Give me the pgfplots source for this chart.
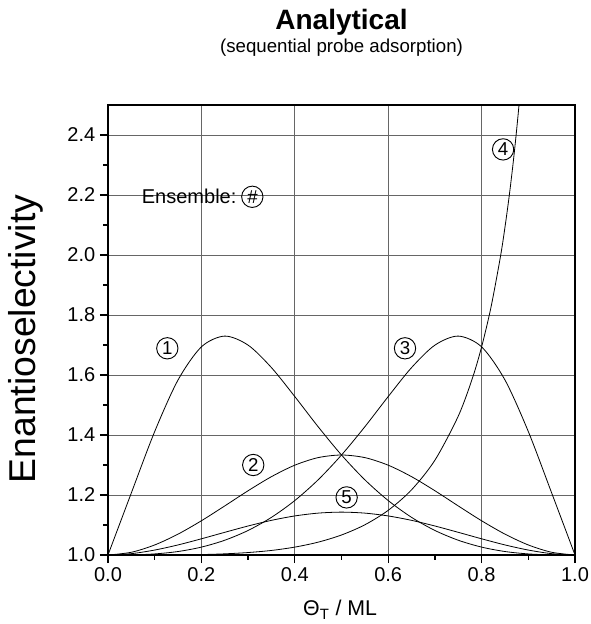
\documentclass[border=0pt]{standalone}
\usepackage{pgfplots}
\pgfplotsset{compat=1.18}
\usepackage{fontspec}
\setmainfont{Liberation Sans}
\tikzset{circ/.style={circle, draw=black, line width=0.7pt, inner sep=0pt, minimum size=16pt, font=\fontsize{14}{16}\selectfont}}
\begin{document}
\begin{tikzpicture}
\begin{axis}[name=ax,
  scale only axis, width=350.25pt, height=337.5pt,
  xmin=0, xmax=1, ymin=1, ymax=2.5,
  xtick={0,0.2,0.4,0.6,0.8,1}, minor xtick={0.1,0.3,0.5,0.7,0.9},
  ytick={1,1.2,1.4,1.6,1.8,2.0,2.2,2.4}, minor ytick={1.1,1.3,1.5,1.7,1.9,2.1,2.3},
  xticklabel style={/pgf/number format/.cd, fixed, fixed zerofill, precision=1},
  yticklabel style={/pgf/number format/.cd, fixed, fixed zerofill, precision=1},
  /pgf/number format/assume math mode=true,
  tick label style={font=\fontsize{15}{17}\selectfont},
  tick align=outside, xtick pos=bottom, ytick pos=left,
  major tick length=6pt, minor tick length=3.5pt,
  tick style={black, line width=1pt},
  axis line style={line width=1.5pt},
  grid=major, major grid style={black!60, line width=0.55pt},
  xlabel={Θ\textsubscript{T} / ML},
  ylabel={Enantioselectivity},
  x label style={font=\fontsize{16}{18}\selectfont, at={(axis description cs:0.497,-0.122)}, anchor=center},
  y label style={font=\fontsize{28}{32}\selectfont, at={(axis description cs:-0.175,0.48)}, anchor=center},
]
% ensemble 1
\addplot[black, line width=0.6pt, smooth] coordinates {(0,1) (0.05,1.2070) (0.1,1.4116) (0.15,1.5835) (0.2,1.6938) (0.25,1.7297) (0.3,1.6995) (0.35,1.6246) (0.4,1.5281) (0.45,1.4275) (0.5,1.3333) (0.55,1.2507) (0.6,1.1815) (0.65,1.1255) (0.7,1.0818) (0.75,1.0492) (0.8,1.0263) (0.85,1.0116) (0.9,1.0036) (0.95,1.0005) (1,1)};
% ensemble 3
\addplot[black, line width=0.6pt, smooth] coordinates {(0,1) (0.05,1.0005) (0.1,1.0036) (0.15,1.0116) (0.2,1.0263) (0.25,1.0492) (0.3,1.0818) (0.35,1.1255) (0.4,1.1815) (0.45,1.2507) (0.5,1.3333) (0.55,1.4275) (0.6,1.5281) (0.65,1.6246) (0.7,1.6995) (0.75,1.7297) (0.8,1.6938) (0.85,1.5835) (0.9,1.4116) (0.95,1.2070) (1,1)};
% ensemble 2
\addplot[black, line width=0.6pt, smooth] coordinates {(0,1) (0.05,1.0091) (0.1,1.0335) (0.15,1.0696) (0.2,1.1141) (0.25,1.1636) (0.3,1.2142) (0.35,1.2611) (0.4,1.2994) (0.45,1.3246) (0.5,1.3333) (0.55,1.3246) (0.6,1.2994) (0.65,1.2611) (0.7,1.2142) (0.75,1.1636) (0.8,1.1141) (0.85,1.0696) (0.9,1.0335) (0.95,1.0091) (1,1)};
% ensemble 5
\addplot[black, line width=0.6pt, smooth] coordinates {(0,1) (0.05,1.0045) (0.1,1.0165) (0.15,1.0336) (0.2,1.0540) (0.25,1.0756) (0.3,1.0967) (0.35,1.1155) (0.4,1.1302) (0.45,1.1396) (0.5,1.1429) (0.55,1.1396) (0.6,1.1302) (0.65,1.1155) (0.7,1.0967) (0.75,1.0756) (0.8,1.0540) (0.85,1.0336) (0.9,1.0165) (0.95,1.0045) (1,1)};
% ensemble 4
\addplot[black, line width=0.6pt, smooth] coordinates {(0,1) (0.1,1.0001) (0.2,1.0016) (0.25,1.0039) (0.3,1.0082) (0.35,1.0152) (0.4,1.0263) (0.45,1.0428) (0.5,1.0667) (0.55,1.1007) (0.6,1.1489) (0.65,1.2173) (0.7,1.3160) (0.75,1.4629) (0.78,1.5877) (0.8,1.6938) (0.82,1.8252) (0.84,1.9915) (0.85,2.0921) (0.86,2.2076) (0.87,2.3414) (0.88,2.4981) (0.89,2.6840)};
\node[circ] at (axis cs:0.127,1.689) {1};
\node[circ] at (axis cs:0.311,1.300) {2};
\node[circ] at (axis cs:0.636,1.689) {3};
\node[circ] at (axis cs:0.846,2.352) {4};
\node[circ] at (axis cs:0.511,1.192) {5};
\node[anchor=west, font=\fontsize{15}{17}\selectfont, inner sep=0pt] at (axis cs:0.072,2.194) {Ensemble:};
\node[circ] at (axis cs:0.309,2.194) {\textit{\#}};
\end{axis}
\node[font=\bfseries\fontsize{21}{23}\selectfont] at ([yshift=62pt]ax.north) {Analytical};
\node[font=\fontsize{14}{16}\selectfont] at ([yshift=43pt]ax.north) {(sequential probe adsorption)};
\pgfresetboundingbox
\path[use as bounding box] ([xshift=-81pt,yshift=-51.75pt]ax.south west) rectangle ([xshift=11.25pt,yshift=78.75pt]ax.north east);
\end{tikzpicture}
\end{document}
